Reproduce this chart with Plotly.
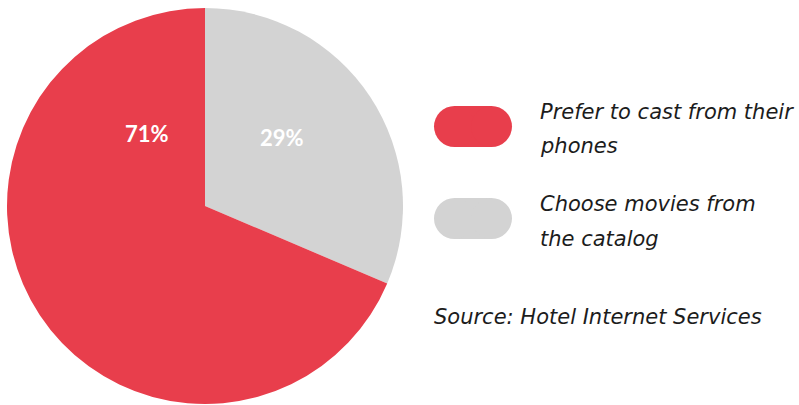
import plotly.graph_objects as go

W, H = 799, 405

categories = ["Choose movies from the catalog", "Prefer to cast from their phones"]
shares = [31.4, 68.6]
pct_labels = ["29%", "71%"]
colors = ["#D3D3D3", "#E83E4C"]
legend_lines = [["Prefer to cast from their", "phones"], ["Choose movies from", "the catalog"]]
legend_colors = ["#E83E4C", "#D3D3D3"]
source_text = "Source: Hotel Internet Services"

FONT = "DejaVu Sans"

def px(x):
    return x / W

def py(y):
    return 1 - y / H

fig = go.Figure()
fig.add_trace(go.Pie(
    labels=categories,
    values=shares,
    sort=False,
    direction="clockwise",
    rotation=0,
    marker=dict(colors=colors, line=dict(width=0)),
    textinfo="none",
    hoverinfo="label+percent",
    showlegend=False,
    domain=dict(x=[px(7), px(403)], y=[py(404), py(8)]),
))

annotations = []
# slice labels
label_pos = [(282, 137), (147, 134)]
for (x, y), t in zip(label_pos, pct_labels):
    annotations.append(dict(x=px(x), y=py(y), xref="paper", yref="paper", text="<b>%s</b>" % t,
                            showarrow=False, xanchor="center", yanchor="middle",
                            font=dict(family="Lato", size=22, color="white")))

shapes = []
pill_tops = [106, 198]
line_baselines = [[119, 153], [211, 246]]
for top, col, lines, bases in zip(pill_tops, legend_colors, legend_lines, line_baselines):
    x0, x1, y0, y1 = 434, 512, top, top + 41
    r = (y1 - y0) / 2
    shapes.append(dict(type="rect", xref="paper", yref="paper", x0=px(x0 + r), x1=px(x1 - r),
                       y0=py(y1), y1=py(y0), fillcolor=col, line=dict(width=0)))
    shapes.append(dict(type="circle", xref="paper", yref="paper", x0=px(x0), x1=px(x0 + 2 * r),
                       y0=py(y1), y1=py(y0), fillcolor=col, line=dict(width=0)))
    shapes.append(dict(type="circle", xref="paper", yref="paper", x0=px(x1 - 2 * r), x1=px(x1),
                       y0=py(y1), y1=py(y0), fillcolor=col, line=dict(width=0)))
    for ln, b in zip(lines, bases):
        annotations.append(dict(x=px(538), y=py(b - 7), xref="paper", yref="paper",
                                text="<i>%s</i>" % ln, showarrow=False,
                                xanchor="left", yanchor="middle",
                                font=dict(family=FONT, size=21, color="#1c1c1c")))

annotations.append(dict(x=px(432), y=py(324 - 7), xref="paper", yref="paper",
                        text="<i>%s</i>" % source_text, showarrow=False,
                        xanchor="left", yanchor="middle",
                        font=dict(family=FONT, size=21, color="#1c1c1c")))

fig.update_layout(
    width=W, height=H,
    margin=dict(l=0, r=0, t=0, b=0),
    paper_bgcolor="white", plot_bgcolor="white",
    annotations=annotations, shapes=shapes,
)

fig.write_html("out.html", config={"displayModeBar": False})
